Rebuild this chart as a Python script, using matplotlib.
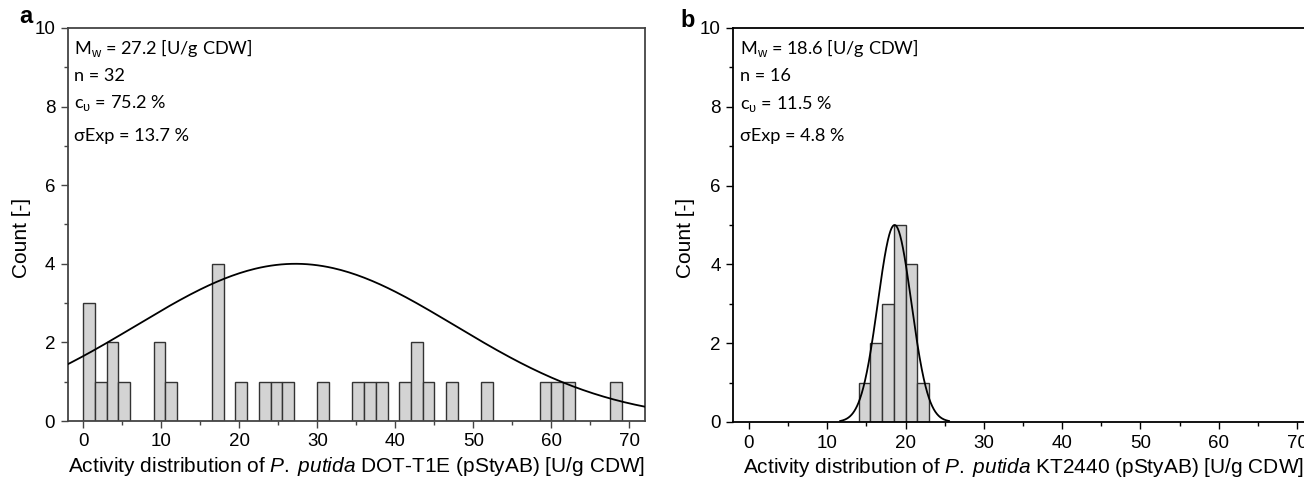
import numpy as np
import matplotlib
matplotlib.use("Agg")
import matplotlib.pyplot as plt
from matplotlib.ticker import MultipleLocator

plt.rcParams['font.family'] = ['Liberation Sans', 'DejaVu Sans']
plt.rcParams['mathtext.fontset'] = 'custom'
plt.rcParams['mathtext.rm'] = 'Liberation Sans'
plt.rcParams['mathtext.it'] = 'Liberation Sans:italic'

# --- dados ---
bin_width = 1.5

# painel a: P. putida DOT-T1E
bins_a = [0, 1.5, 3, 4.5, 9, 10.5, 16.5, 19.5, 22.5, 24, 25.5, 30,
          34.5, 36, 37.5, 40.5, 42, 43.5, 46.5, 51, 58.5, 60, 61.5, 67.5]
counts_a = [3, 1, 2, 1, 2, 1, 4, 1, 1, 1, 1, 1,
            1, 1, 1, 1, 2, 1, 1, 1, 1, 1, 1, 1]
mean_a, cv_a, peak_a = 27.2, 0.752, 4
stats_a = ["M$_{\\mathrm{w}}$ = 27.2 [U/g CDW]", "n = 32", "c$_{\\mathrm{\u03c5}}$ = 75.2 %", "\u03c3Exp = 13.7 %"]
xlabel_a = "Activity distribution of $\\it{P.\\;putida}$ DOT-T1E (pStyAB) [U/g CDW]"

# painel b: P. putida KT2440
bins_b = [14, 15.5, 17, 18.5, 20, 21.5]
counts_b = [1, 2, 3, 5, 4, 1]
mean_b, cv_b, peak_b = 18.6, 0.115, 5
stats_b = ["M$_{\\mathrm{w}}$ = 18.6 [U/g CDW]", "n = 16", "c$_{\\mathrm{\u03c5}}$ = 11.5 %", "\u03c3Exp = 4.8 %"]
xlabel_b = "Activity distribution of $\\it{P.\\;putida}$ KT2440 (pStyAB) [U/g CDW]"

fig = plt.figure(figsize=(13.04, 4.79), dpi=100)
ax_a = fig.add_axes([67.7 / 1304, 58 / 479, 577.3 / 1304, 393 / 479])
ax_b = fig.add_axes([733.3 / 1304, 57 / 479, 579.4 / 1304, 394 / 479])


def painel(ax, bins, counts, mean, cv, peak, stats, xlabel, letra, lx, ly, ylx, cor):
    ax.bar(bins, counts, width=bin_width, align='edge', color='#d3d3d3',
           edgecolor='#333333', linewidth=1.0, zorder=2)
    sd = mean * cv
    xs = np.linspace(mean - 3.25 * sd, mean + 3.25 * sd, 400)
    ax.plot(xs, peak * np.exp(-0.5 * ((xs - mean) / sd) ** 2), color='black', lw=1.3, zorder=3)
    ax.set_xlim(-2, 72)
    ax.set_ylim(0, 10)
    ax.xaxis.set_major_locator(MultipleLocator(10))
    ax.xaxis.set_minor_locator(MultipleLocator(5))
    ax.yaxis.set_major_locator(MultipleLocator(2))
    ax.yaxis.set_minor_locator(MultipleLocator(1))
    ax.tick_params(which='major', direction='out', length=5, width=1, labelsize=13.5, colors=cor,
                   labelcolor='black', pad=4)
    ax.tick_params(which='minor', direction='out', length=3, width=1, colors=cor)
    for s in ax.spines.values():
        s.set_color(cor)
        s.set_linewidth(1.3)
    ax.set_xlabel(xlabel, fontsize=15, labelpad=3)
    ax.set_ylabel("Count [-]", fontsize=15)
    ax.yaxis.set_label_coords(ylx, 0.466)
    ys = [0.948, 0.878, 0.808, 0.725]
    for t, y in zip(stats, ys):
        ax.text(0.011, y, t, transform=ax.transAxes, fontsize=13.1, family='Lato',
                va='center', ha='left')
    ax.text(lx, ly, letra, transform=ax.transAxes, fontsize=17, fontweight='bold',
            va='center', ha='center')


painel(ax_a, bins_a, counts_a, mean_a, cv_a, peak_a, stats_a, xlabel_a, 'a', -0.072, 1.03, -0.064, '#444444')
painel(ax_b, bins_b, counts_b, mean_b, cv_b, peak_b, stats_b, xlabel_b, 'b', -0.078, 1.02, -0.066, 'black')
ax_b.spines['right'].set_visible(False)

fig.savefig('out.png', dpi=100)
